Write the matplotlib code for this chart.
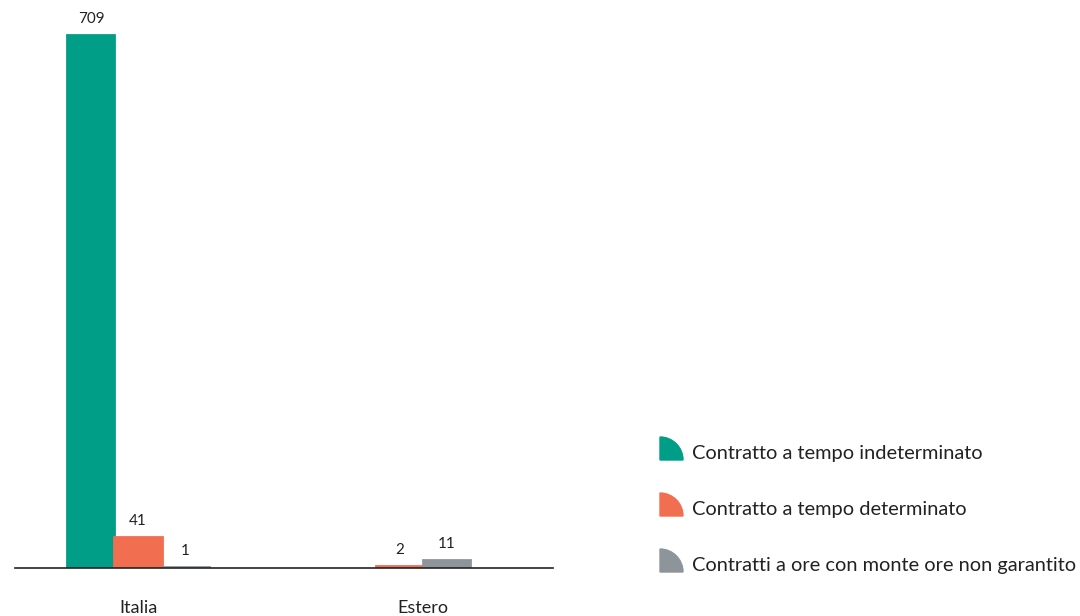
import matplotlib.pyplot as plt
import numpy as np
from matplotlib.patches import Wedge

# === Data
categories = ["Italia", "Estero"]
series_names = [
    "Contratto a tempo indeterminato",
    "Contratto a tempo determinato",
    "Contratti a ore con monte ore non garantito",
]
indeterminato = [709, 0]
determinato = [41, 2]
ore = [1, 11]
colors = ["#009E87", "#F26E50", "#8E959A"]

plt.rcParams["font.family"] = ["Lato", "DejaVu Sans"]
text_color = "#222222"

fig = plt.figure(figsize=(10.8, 6.16), dpi=100)

# === Bars (empty series are skipped and the rest centred on the category)
ax = fig.add_axes([15 / 1080, 1 - 568 / 616, 538 / 1080, 537 / 616])
x = np.arange(len(categories))
w = 0.165
all_series = [indeterminato, determinato, ore]
for ci, cx in enumerate(x):
    present = [(vals[ci], col) for vals, col in zip(all_series, colors) if vals[ci] > 0]
    n = len(present)
    for k, (v, col) in enumerate(present):
        p = cx + (k - (n - 1) / 2) * w
        ax.bar(p, v, width=w, color=col, edgecolor=col, linewidth=2)
        ax.text(p, v + 12, str(v), ha="center", va="bottom",
                fontsize=11, color=text_color)

ax.set_xlim(-0.4316, 1.456)
ax.set_ylim(0, 714)
for s in ["top", "right", "left"]:
    ax.spines[s].set_visible(False)
ax.spines["bottom"].set_color("#222222")
ax.spines["bottom"].set_linewidth(1.2)
ax.set_yticks([])
ax.set_xticks(x)
ax.set_xticklabels(categories, fontsize=13, color=text_color)
ax.tick_params(axis="x", length=0, pad=23)

# === Legend with quarter-circle markers (pixel coordinates)
lax = fig.add_axes([0, 0, 1, 1])
lax.set_xlim(0, 1080)
lax.set_ylim(0, 616)
lax.axis("off")
leg_y = [460, 516, 572]
for yb, col, name in zip(leg_y, colors, series_names):
    lax.add_patch(Wedge((660, 616 - yb), 23, 0, 90, color=col))
    lax.text(692, 616 - yb + 6, name, va="center", ha="left",
             fontsize=14.4, color=text_color)

fig.savefig("out.png", dpi=100)
print("Figure saved as out.png")
